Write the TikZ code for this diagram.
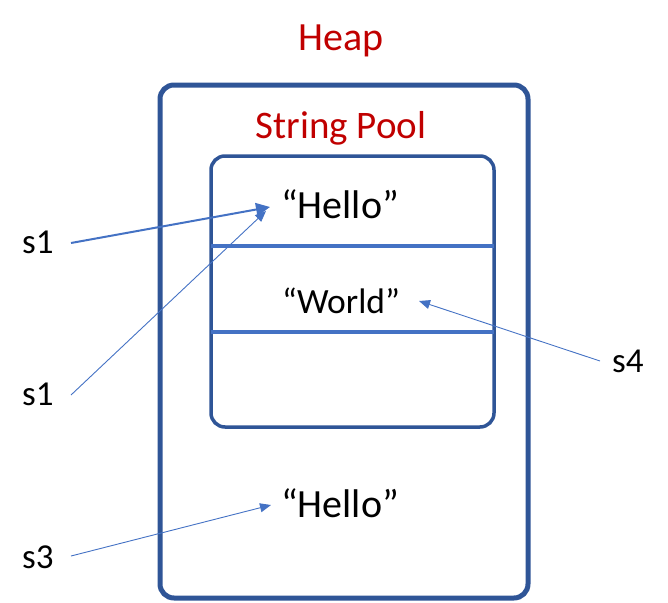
\documentclass[tikz,border=0pt]{standalone}
\usepackage{fontspec}
\setmainfont{Carlito}
\usetikzlibrary{arrows.meta}
\definecolor{boxblue}{HTML}{2F5597}
\definecolor{lineblue}{HTML}{4472C4}
\definecolor{heapred}{HTML}{C00000}
\begin{document}
\begin{tikzpicture}[x=1pt,y=-1pt,
  title/.style={text=heapred,inner sep=0pt,anchor=base,font=\fontsize{40}{44}\selectfont},
  subtitle/.style={text=heapred,inner sep=0pt,anchor=base,font=\fontsize{39}{44}\selectfont},
  strtext/.style={inner sep=0pt,anchor=base,font=\fontsize{40}{44}\selectfont},
  strsmall/.style={inner sep=0pt,anchor=base,font=\fontsize{35.5}{40}\selectfont},
  varlabel/.style={inner sep=0pt,anchor=base west,font=\fontsize{35}{38}\selectfont},
  boxline/.style={draw=boxblue,rounded corners=14pt},
  divider/.style={draw=lineblue,line width=4pt},
  ptr/.style={draw=lineblue,line width=0.9pt,-{Triangle[length=11pt,width=9pt]}},
  ptrthick/.style={draw=lineblue,line width=2pt,-{Triangle[length=14pt,width=13pt]}}
]
\useasboundingbox (0,0) rectangle (668,602);
% boxes
\node[boxline,line width=5pt,minimum width=368pt,minimum height=513pt,inner sep=0pt] (heap) at (344,341.5) {};
\node[boxline,line width=3.5pt,minimum width=283pt,minimum height=271pt,inner sep=0pt] (pool) at (352.5,291.5) {};
\coordinate (d1l) at (211,246); \coordinate (d1r) at (494,246);
\coordinate (d2l) at (211,332); \coordinate (d2r) at (494,332);
\draw[divider] (d1l) -- (d1r);
\draw[divider] (d2l) -- (d2r);
% titles
\node[title] (heapt) at (341,51) {Heap};
\node[subtitle] (poolt) at (341,138) {String Pool};
% strings
\node[strtext] (hello1) at (340,218) {“Hello”};
\node[strsmall] (world) at (341,313) {“World”};
\node[strtext] (hello2) at (340,517) {“Hello”};
% variables
\node[varlabel] (s1a) at (22,253) {s1};
\node[varlabel] (s1b) at (22,405) {s1};
\node[varlabel] (s3) at (22,568) {s3};
\node[varlabel] (s4) at (612,372) {s4};
% pointer ends
\coordinate (s1aout) at (71,243);
\coordinate (s1bout) at (71,395);
\coordinate (s3out) at (71,556);
\coordinate (s4out) at (600,361);
\coordinate (h1tip) at (270,207);
\coordinate (h1tipb) at (266,211);
\coordinate (wtip) at (419,301);
\coordinate (h2tip) at (271,505);
\draw[ptr] (s1bout) -- (h1tipb);
\draw[ptrthick] (s1aout) -- (h1tip);
\draw[ptr] (s4out) -- (wtip);
\draw[ptr] (s3out) -- (h2tip);
\end{tikzpicture}
\end{document}
